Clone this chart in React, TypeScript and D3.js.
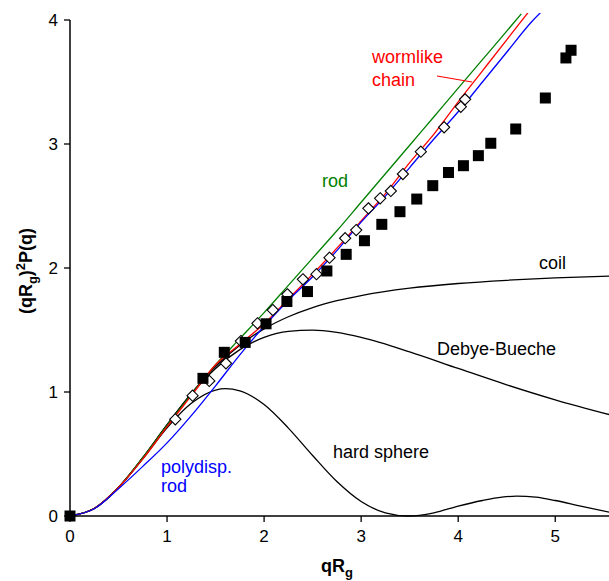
import React from "react";
import * as d3 from "d3";

type P = [number, number];

const X_TICKS = [0, 1, 2, 3, 4, 5];
const Y_TICKS = [0, 1, 2, 3, 4];

const rod: P[] = [[0,0],[0.25,0.06],[0.5,0.23],[0.75,0.47],[1,0.73],[1.25,0.98],[1.5,1.22],[1.75,1.43],[2,1.64],[2.25,1.86],[2.5,2.08],[2.75,2.3],[3,2.53],[3.25,2.76],[3.5,2.99],[3.75,3.22],[4,3.45],[4.25,3.68],[4.5,3.91],[4.65,4.05]];
const wormlike: P[] = [[0,0],[0.25,0.06],[0.5,0.23],[0.75,0.46],[1,0.72],[1.25,0.97],[1.5,1.22],[1.75,1.385],[2,1.55],[2.25,1.75],[2.5,1.95],[2.75,2.16],[3,2.38],[3.25,2.6],[3.5,2.85],[3.75,3.08],[4,3.34],[4.25,3.59],[4.5,3.84],[4.75,4.09]];
const polyRod: P[] = [[0,0],[0.25,0.058],[0.5,0.22],[0.75,0.4],[1,0.59],[1.25,0.81],[1.5,1.05],[1.75,1.3],[2,1.53],[2.25,1.74],[2.5,1.93],[2.75,2.14],[3,2.37],[3.25,2.58],[3.5,2.81],[3.75,3.04],[4,3.26],[4.25,3.5],[4.5,3.74],[4.75,3.98],[4.9,4.1]];
const coil: P[] = [[0,0],[0.25,0.061],[0.5,0.23],[0.75,0.47],[1,0.736],[1.25,0.988],[1.5,1.205],[1.75,1.378],[2,1.509],[2.25,1.607],[2.5,1.681],[2.75,1.736],[3,1.778],[3.5,1.837],[4,1.875],[4.5,1.901],[5,1.92],[5.56,1.935]];
const debyeBueche: P[] = [[0,0],[0.25,0.061],[0.5,0.23],[0.75,0.47],[1,0.735],[1.25,0.984],[1.5,1.19],[1.75,1.342],[2,1.44],[2.25,1.489],[2.5,1.499],[2.75,1.48],[3,1.44],[3.5,1.324],[4,1.19],[4.5,1.058],[5,0.937],[5.56,0.817]];
const hardSphere: P[] = [[0,0],[0.25,0.061],[0.5,0.23],[0.75,0.461],[1,0.711],[1.25,0.909],[1.5,1.016],[1.6,1.027],[1.75,1.01],[2,0.899],[2.25,0.709],[2.5,0.488],[2.75,0.278],[3,0.117],[3.25,0.025],[3.48,0],[3.75,0.026],[4,0.08],[4.25,0.125],[4.45,0.152],[4.6,0.16],[4.8,0.152],[5,0.125],[5.25,0.082],[5.56,0.03]];

const filledData: P[] = [[0,0],[1.37,1.11],[1.59,1.32],[1.805,1.4],[2.02,1.55],[2.235,1.73],[2.447,1.81],[2.647,1.976],[2.846,2.11],[3.034,2.22],[3.213,2.352],[3.4,2.454],[3.573,2.556],[3.738,2.664],[3.9,2.77],[4.054,2.825],[4.208,2.906],[4.336,3.006],[4.593,3.121],[4.898,3.371],[5.11,3.694],[5.163,3.756]];
const openData: P[] = [[1.085,0.78],[1.263,0.97],[1.435,1.089],[1.607,1.231],[1.761,1.411],[1.932,1.554],[2.09,1.661],[2.24,1.788],[2.4,1.909],[2.54,1.95],[2.674,2.083],[2.835,2.24],[2.949,2.306],[3.075,2.481],[3.196,2.562],[3.306,2.621],[3.43,2.758],[3.615,2.938],[3.855,3.135],[4.027,3.3],[4.071,3.36]];

const W = 609, H = 581;
const x = d3.scaleLinear().domain([0, 5.554]).range([70, 609]);
const y = d3.scaleLinear().domain([0, 4]).range([516, 20]);
const line = d3.line<P>().x(d => x(d[0])).y(d => y(d[1])).curve(d3.curveMonotoneX);

const FONT = "Arial, 'Liberation Sans', sans-serif";

export default function App() {
  const curves: { data: P[]; color: string }[] = [
    { data: coil, color: "#000" },
    { data: debyeBueche, color: "#000" },
    { data: hardSphere, color: "#000" },
    { data: rod, color: "#008000" },
    { data: wormlike, color: "#ff0000" },
    { data: polyRod, color: "#0000ff" },
  ];
  const ds = 5.6;
  return (
    <svg width={W} height={H} style={{ position: "absolute", left: 0, top: 0, background: "#fff" }} fontFamily={FONT}>
      <defs>
        <clipPath id="plot">
          <rect x={70} y={13} width={W - 70} height={516 - 13 + 2} />
        </clipPath>
      </defs>
      <g clipPath="url(#plot)">
        {curves.map((c, i) => (
          <path key={i} d={line(c.data) || ""} fill="none" stroke={c.color} strokeWidth={1.3} />
        ))}
      </g>
      <line x1={70} x2={609} y1={516} y2={516} stroke="#000" strokeWidth={1.5} />
      <line x1={70} x2={70} y1={20} y2={516} stroke="#000" strokeWidth={1.5} />
      {X_TICKS.map(t => (
        <g key={"x" + t}>
          <line x1={x(t)} x2={x(t)} y1={516} y2={522} stroke="#000" strokeWidth={1.3} />
          <text x={x(t)} y={542} textAnchor="middle" fontSize={17}>{t}</text>
        </g>
      ))}
      {Y_TICKS.map(t => (
        <g key={"y" + t}>
          <line x1={64} x2={70} y1={y(t)} y2={y(t)} stroke="#000" strokeWidth={1.3} />
          <text x={58} y={y(t) + 6} textAnchor="end" fontSize={17}>{t}</text>
        </g>
      ))}
      {openData.map((d, i) => {
        const cx = x(d[0]), cy = y(d[1]);
        return (
          <path key={"o" + i} d={`M${cx},${cy - ds}L${cx + ds},${cy}L${cx},${cy + ds}L${cx - ds},${cy}Z`} fill="#fff" stroke="#000" strokeWidth={1.1} />
        );
      })}
      {filledData.map((d, i) => (
        <rect key={"f" + i} x={x(d[0]) - 5.5} y={y(d[1]) - 5.5} width={11} height={11} fill="#000" />
      ))}
      <text x={372} y={63} fontSize={18} fill="#ff0000">wormlike</text>
      <text x={372} y={86} fontSize={18} fill="#ff0000">chain</text>
      <line x1={437} y1={76} x2={472} y2={82} stroke="#ff0000" strokeWidth={1.2} />
      <text x={322} y={187} fontSize={18} fill="#008000">rod</text>
      <text x={539} y={269} fontSize={18} fill="#000">coil</text>
      <text x={437} y={355} fontSize={18} fill="#000">Debye-Bueche</text>
      <text x={333} y={458} fontSize={18} fill="#000">hard sphere</text>
      <text x={161} y={473} fontSize={18} fill="#0000ff">polydisp.</text>
      <text x={161} y={492} fontSize={18} fill="#0000ff">rod</text>
      <text x={321} y={572} fontSize={18} fontWeight="bold">
        qR<tspan fontSize={13} dy={5}>g</tspan>
      </text>
      <text transform="translate(32,271) rotate(-90)" textAnchor="middle" fontSize={18} fontWeight="bold">
        (qR<tspan fontSize={13} dy={5}>g</tspan><tspan dy={-5}>)</tspan><tspan fontSize={13} dy={-7}>2</tspan><tspan dy={7}>P(q)</tspan>
      </text>
    </svg>
  );
}
